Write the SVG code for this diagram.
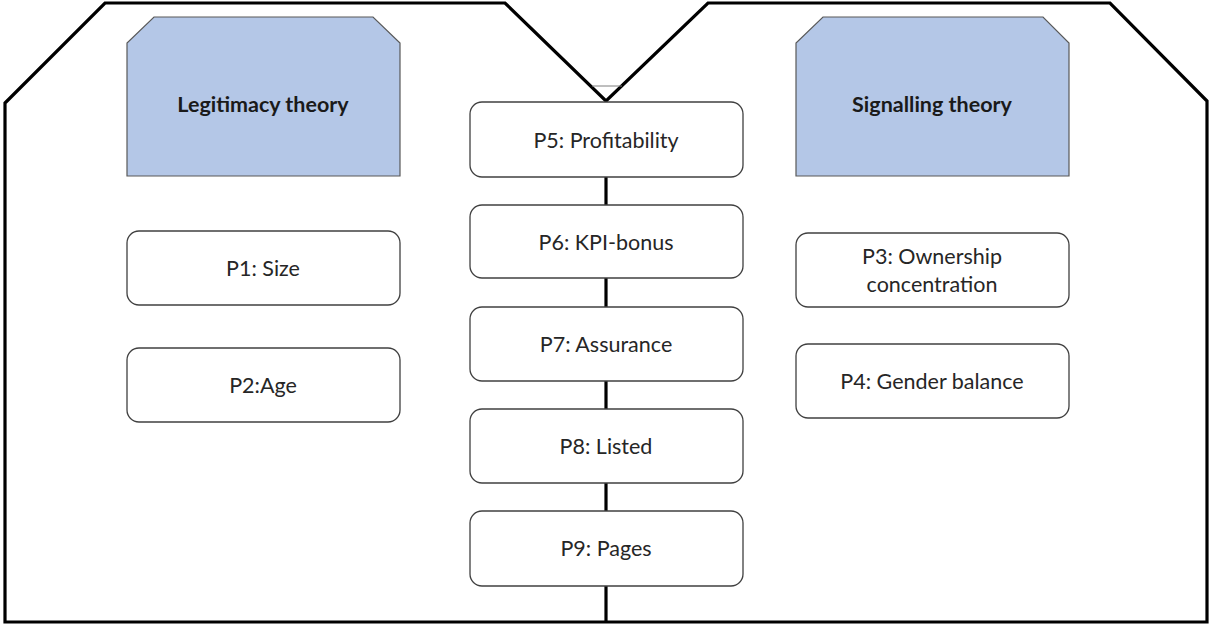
<svg xmlns="http://www.w3.org/2000/svg" width="1210" height="626" viewBox="0 0 1210 626">
<style>
.frame{fill:none;stroke:#000;stroke-width:3.2;stroke-linejoin:miter}
.theory{fill:#b4c7e7;stroke:#595959;stroke-width:1.2}
.node{fill:#fff;stroke:#404040;stroke-width:1.3}
.conn{stroke:#000;stroke-width:3.2;fill:none}
.t{font-family:Lato,"Liberation Sans",sans-serif;font-size:21.5px;fill:#262626;text-anchor:middle}
.tb{font-family:Lato,"Liberation Sans",sans-serif;font-size:21.5px;font-weight:bold;fill:#1a1a1a;text-anchor:middle}
</style>
<rect width="1210" height="626" fill="#fff"/>
<g id="frame">
<path class="frame" d="M5,622 L5,103 L105,3 L505,3 L606,101 L708,3 L1110,3 L1207,101 L1207,622 Z"/>
<line x1="592" y1="86" x2="622" y2="86" stroke="#7f7f7f" stroke-width="1"/>
</g>
<g id="connectors">
<line class="conn" x1="606" y1="177" x2="606" y2="205"/>
<line class="conn" x1="606" y1="278" x2="606" y2="307"/>
<line class="conn" x1="606" y1="381" x2="606" y2="409"/>
<line class="conn" x1="606" y1="483" x2="606" y2="511"/>
<line class="conn" x1="606" y1="586" x2="606" y2="622"/>
</g>
<g id="legitimacy">
<path class="theory" d="M127,176 L127,43 L154,17 L373,17 L400,43 L400,176 Z"/>
<text class="tb" x="263" y="112">Legitimacy theory</text>
</g>
<g id="signalling">
<path class="theory" d="M796,176 L796,43 L823,17 L1043,17 L1069,43 L1069,176 Z"/>
<text class="tb" x="932" y="112">Signalling theory</text>
</g>
<g id="p1"><rect class="node" x="127" y="231" width="273" height="74" rx="12"/><text class="t" x="263" y="276">P1: Size</text></g>
<g id="p2"><rect class="node" x="127" y="348" width="273" height="74" rx="12"/><text class="t" x="263" y="393">P2:Age</text></g>
<g id="p3"><rect class="node" x="796" y="233" width="273" height="74" rx="12"/><text class="t" x="932" y="264">P3: Ownership</text><text class="t" x="932" y="292">concentration</text></g>
<g id="p4"><rect class="node" x="796" y="344" width="273" height="74" rx="12"/><text class="t" x="932" y="389">P4: Gender balance</text></g>
<g id="p5"><rect class="node" x="470" y="102" width="273" height="75" rx="12"/><text class="t" x="606" y="148">P5: Profitability</text></g>
<g id="p6"><rect class="node" x="470" y="205" width="273" height="73" rx="12"/><text class="t" x="606" y="250">P6: KPI-bonus</text></g>
<g id="p7"><rect class="node" x="470" y="307" width="273" height="74" rx="12"/><text class="t" x="606" y="352">P7: Assurance</text></g>
<g id="p8"><rect class="node" x="470" y="409" width="273" height="74" rx="12"/><text class="t" x="606" y="454">P8: Listed</text></g>
<g id="p9"><rect class="node" x="470" y="511" width="273" height="75" rx="12"/><text class="t" x="606" y="556">P9: Pages</text></g>
</svg>
